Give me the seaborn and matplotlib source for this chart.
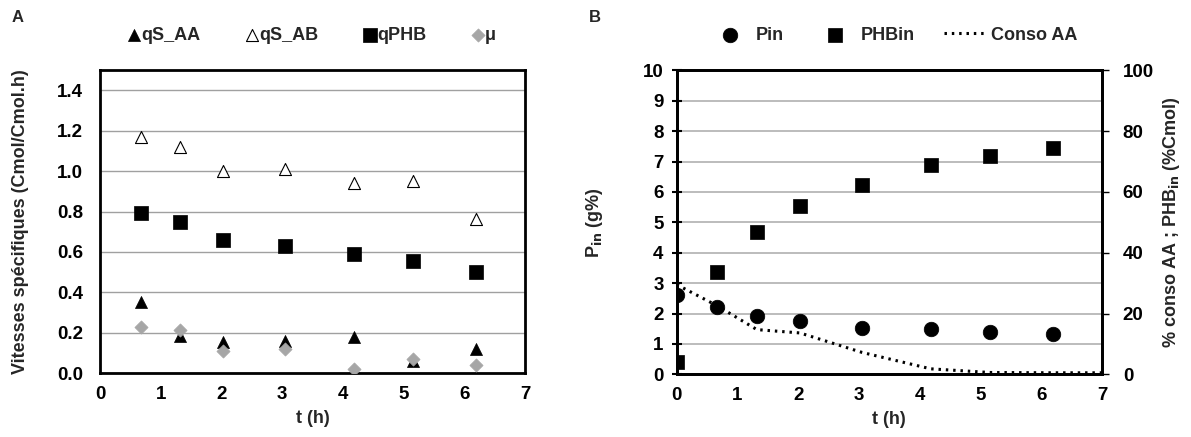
import matplotlib
matplotlib.use("Agg")
import matplotlib.pyplot as plt
import seaborn as sns
import numpy as np

# ---------------- data ----------------
t_A = [0.67, 1.32, 2.03, 3.05, 4.18, 5.15, 6.19]
qS_AA = [0.355, 0.183, 0.157, 0.162, 0.178, 0.062, 0.118]
qS_AB = [1.167, 1.117, 1.002, 1.010, 0.940, 0.950, 0.765]
qPHB = [0.795, 0.748, 0.658, 0.630, 0.590, 0.557, 0.500]
mu = [0.230, 0.213, 0.108, 0.120, 0.022, 0.071, 0.043]

t_B = [0.0, 0.67, 1.32, 2.03, 3.05, 4.18, 5.15, 6.19]
Pin = [2.60, 2.20, 1.91, 1.75, 1.53, 1.49, 1.39, 1.33]
PHBin = [4.2, 33.7, 46.8, 55.2, 62.3, 68.9, 71.9, 74.5]
t_conso = [0.0, 0.67, 1.32, 2.03, 3.05, 4.18, 5.15, 6.19, 7.0]
conso_AA = [29.5, 22.5, 14.7, 13.6, 7.2, 1.8, 0.6, 0.5, 0.5]

x_ticks = list(range(0, 8))
yA_ticks = [0.0, 0.2, 0.4, 0.6, 0.8, 1.0, 1.2, 1.4]
yA_ticklabels = ["0.0", "0.2", "0.4", "0.6", "0.8", "1.0", "1.2", "1.4"]
yB_ticks = list(range(0, 11))
yB2_ticks = [0, 20, 40, 60, 80, 100]

# ---------------- style ----------------
sns.set_style("white")
plt.rcParams["font.family"] = ["Liberation Sans", "DejaVu Sans"]
plt.rcParams["font.weight"] = "bold"
FS = 13.5
LFS = 13

fig = plt.figure(figsize=(11.91, 4.37), dpi=100)
W, H = 1191, 437
axA = fig.add_axes([100 / W, 1 - 373.3 / H, 425 / W, 303.3 / H])
axB = fig.add_axes([676.7 / W, 1 - 374.3 / H, 425.3 / W, 304 / H])

GRID = "#a0a0a0"
SPW = 2.0

# ---------------- panel A ----------------
sns.scatterplot(x=t_A, y=qS_AA, ax=axA, marker="^", s=75, color="black",
                edgecolor="black", linewidth=0.5, label="qS_AA", zorder=3)
sns.scatterplot(x=t_A, y=qS_AB, ax=axA, marker="^", s=75, color="white",
                edgecolor="black", linewidth=0.8, label="qS_AB", zorder=3)
sns.scatterplot(x=t_A, y=qPHB, ax=axA, marker="s", s=95, color="black",
                edgecolor="black", linewidth=0.5, label="qPHB", zorder=3)
sns.scatterplot(x=t_A, y=mu, ax=axA, marker="D", s=45, color="#a6a6a6",
                edgecolor="#a6a6a6", linewidth=0.5, label="μ", zorder=4)

axA.set_xlim(0, 7)
axA.set_ylim(0, 1.5)
axA.set_xticks(x_ticks)
axA.set_yticks(yA_ticks)
axA.set_yticklabels(yA_ticklabels)
axA.yaxis.grid(True, color=GRID, lw=1.0)
axA.xaxis.grid(False)
axA.set_axisbelow(True)
for sp in axA.spines.values():
    sp.set_visible(True)
    sp.set_linewidth(SPW)
    sp.set_color("black")
axA.tick_params(axis="both", direction="out", length=4, width=1.5,
                labelsize=FS, colors="black", pad=5)
axA.tick_params(axis="y", pad=8)
for lab in axA.get_xticklabels() + axA.get_yticklabels():
    lab.set_fontweight("bold")
axA.set_xlabel("t (h)", fontsize=LFS, fontweight="bold", labelpad=5)
axA.set_ylabel("Vitesses spécifiques (Cmol/Cmol.h)", fontsize=LFS,
               fontweight="bold", labelpad=20)
axA.legend_.remove()
hA, lA = axA.get_legend_handles_labels()
fig.legend(hA, lA, loc="center", bbox_to_anchor=(312 / W, 1 - 35 / H), ncol=4,
           frameon=False, handlelength=0.7, handletextpad=0.05,
           columnspacing=2.5, prop={"weight": "bold", "size": LFS})

# ---------------- panel B ----------------
axB2 = axB.twinx()
sns.scatterplot(x=t_B, y=Pin, ax=axB, marker="o", s=110, color="black",
                edgecolor="black", linewidth=0.5, label="Pin", zorder=3)
sns.scatterplot(x=t_B, y=PHBin, ax=axB2, marker="s", s=110, color="black",
                edgecolor="black", linewidth=0.5, label="PHBin", zorder=3)
sns.lineplot(x=t_conso, y=conso_AA, ax=axB2, color="black", lw=2.2,
             linestyle=(0, (0.8, 1.6)), label="Conso AA", zorder=2,
             estimator=None, sort=False)

axB.set_xlim(0, 7)
axB.set_ylim(0, 10)
axB2.set_ylim(0, 100)
axB.set_xticks(x_ticks)
axB.set_yticks(yB_ticks)
axB2.set_yticks(yB2_ticks)
axB.yaxis.grid(True, color="#b0b0b0", lw=1.2)
axB.xaxis.grid(False)
axB.set_axisbelow(True)
axB2.grid(False)
for a in (axB, axB2):
    for sp in a.spines.values():
        sp.set_visible(True)
        sp.set_linewidth(SPW)
        sp.set_color("black")
axB.tick_params(axis="x", direction="out", length=4, width=1.5,
                labelsize=FS, colors="black", pad=5)
axB.tick_params(axis="y", direction="inout", length=7, width=1.5,
                labelsize=FS, colors="black", pad=6)
axB2.tick_params(axis="y", direction="out", length=5, width=1.0,
                 labelsize=FS, colors="black", pad=10)
for lab in axB.get_xticklabels() + axB.get_yticklabels() + axB2.get_yticklabels():
    lab.set_fontweight("bold")
axB.set_xlabel("t (h)", fontsize=LFS, fontweight="bold", labelpad=5)
axB.set_ylabel(r"P$_{\mathbf{in}}$ (g%)", fontsize=LFS, fontweight="bold",
               labelpad=27)
axB2.set_ylabel(r"% conso AA ; PHB$_{\mathbf{in}}$ (%Cmol)", fontsize=LFS,
                fontweight="bold", labelpad=5)
for a in (axB, axB2):
    if a.legend_ is not None:
        a.legend_.remove()
h1, l1 = axB.get_legend_handles_labels()
h2, l2 = axB2.get_legend_handles_labels()
fig.legend(h1 + h2, l1 + l2, loc="center", bbox_to_anchor=(893 / W, 1 - 35 / H),
           ncol=3, frameon=False, handlelength=2.4, handletextpad=0.2,
           columnspacing=1.65, prop={"weight": "bold", "size": LFS})

fig.text(18 / W, 1 - 18 / H, "A", fontsize=12, fontweight="bold",
         ha="center", va="center")
fig.text(595 / W, 1 - 18 / H, "B", fontsize=12, fontweight="bold",
         ha="center", va="center")

fig.savefig("out.png", dpi=100)
